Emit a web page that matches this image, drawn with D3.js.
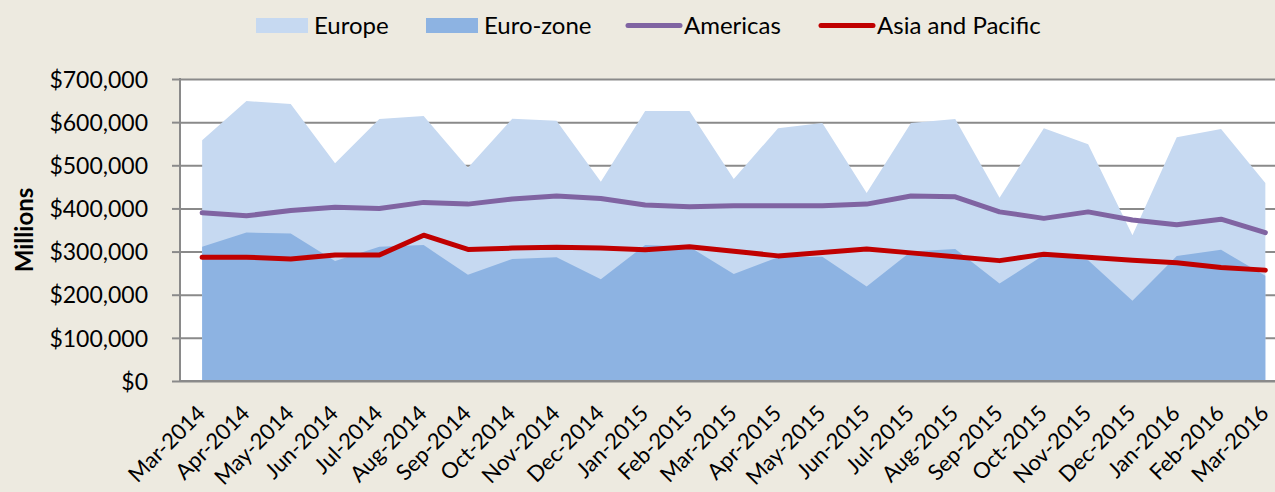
<!DOCTYPE html>
<html>
<head>
<meta charset="utf-8">
<script src="https://cdn.jsdelivr.net/npm/d3@7"></script>
<style>
  body { margin: 0; background: #edeae0; }
  text { font-family: Lato, sans-serif; fill: #000; }
</style>
</head>
<body>
<div id="chart"></div>
<script>
// months on the x axis
const months = [
    'Mar-2014', 'Apr-2014', 'May-2014', 'Jun-2014', 'Jul-2014', 'Aug-2014', 'Sep-2014',
    'Oct-2014', 'Nov-2014', 'Dec-2014', 'Jan-2015', 'Feb-2015', 'Mar-2015', 'Apr-2015',
    'May-2015', 'Jun-2015', 'Jul-2015', 'Aug-2015', 'Sep-2015', 'Oct-2015', 'Nov-2015',
    'Dec-2015', 'Jan-2016', 'Feb-2016', 'Mar-2016',
]

// series values, millions of dollars
const europe = [
    558000, 649000, 642000, 505000, 607000, 614000, 494000, 608000, 603000, 462000,
    626000, 626000, 468000, 586000, 598000, 436000, 598000, 607000, 425000, 586000,
    549000, 338000, 565000, 584000, 459000,
]
const euroZone = [
    311000, 344000, 342000, 278000, 311000, 315000, 246000, 283000, 287000, 236000,
    315000, 311000, 248000, 287000, 288000, 219000, 300000, 306000, 226000, 292000,
    280000, 186000, 290000, 304000, 244000,
]
const americas = [
    390000, 383000, 395000, 403000, 400000, 414000, 410000, 422000, 429000, 423000,
    408000, 404000, 406000, 406000, 406000, 410000, 429000, 427000, 392000, 377000,
    392000, 373000, 362000, 375000, 344000,
]
const asiaPacific = [
    287000, 287000, 283000, 292000, 292000, 338000, 305000, 308000, 310000, 308000,
    304000, 311000, 301000, 290000, 298000, 306000, 297000, 288000, 279000, 294000,
    287000, 280000, 274000, 263000, 257000,
]

// y axis tick values
const yTicks = [0, 100000, 200000, 300000, 400000, 500000, 600000, 700000]

const legendNames = ['Europe', 'Euro-zone', 'Americas', 'Asia and Pacific']

const config = {
    width: 1275,
    height: 492,
    plot: { left: 180, top: 79, bottom: 381, step: 44.3 },
    colors: {
        europe: '#c6d9f1',
        euroZone: '#8db3e2',
        americas: '#8064a2',
        asiaPacific: '#c00000',
        grid: '#8a8a8a',
    },
    legend: { x: [256, 426, 626, 819], y: 25.5 },
    money: d3.format('$,d'),
}

const svg = d3
    .select('#chart')
    .append('svg')
    .attr('width', config.width)
    .attr('height', config.height)

const x = d3
    .scaleBand()
    .domain(months)
    .range([config.plot.left, config.plot.left + months.length * config.plot.step])
const cx = (d) => x(d) + x.bandwidth() / 2

const y = d3
    .scaleLinear()
    .domain([0, 700000])
    .range([config.plot.bottom, config.plot.top])

// white plot area
svg.append('rect')
    .attr('x', config.plot.left)
    .attr('y', config.plot.top)
    .attr('width', config.width - config.plot.left)
    .attr('height', config.plot.bottom - config.plot.top)
    .attr('fill', '#fff')

// gridlines (behind the series)
const grid = svg
    .append('g')
    .attr('transform', `translate(${config.plot.left},0)`)
    .call(
        d3.axisLeft(y)
            .tickValues(yTicks)
            .tickSize(-(config.width - config.plot.left))
            .tickFormat('')
    )
grid.select('.domain').remove()
grid.selectAll('line').attr('stroke', config.colors.grid).attr('stroke-width', 2)

// areas: Europe first, Euro-zone over it
const area = (values) =>
    d3.area()
        .x((d, i) => cx(months[i]))
        .y0(y(0))
        .y1((d) => y(d))(values)

svg.append('path').attr('d', area(europe)).attr('fill', config.colors.europe)
svg.append('path').attr('d', area(euroZone)).attr('fill', config.colors.euroZone)

// lines
const line = d3
    .line()
    .x((d, i) => cx(months[i]))
    .y((d) => y(d))

svg.append('path')
    .attr('d', line(americas))
    .attr('fill', 'none')
    .attr('stroke', config.colors.americas)
    .attr('stroke-width', 5)
    .attr('stroke-linecap', 'round')
    .attr('stroke-linejoin', 'round')

svg.append('path')
    .attr('d', line(asiaPacific))
    .attr('fill', 'none')
    .attr('stroke', config.colors.asiaPacific)
    .attr('stroke-width', 5)
    .attr('stroke-linecap', 'round')
    .attr('stroke-linejoin', 'round')

// y axis with labels and short tick marks
const yAxis = svg
    .append('g')
    .attr('transform', `translate(${config.plot.left},0)`)
    .call(d3.axisLeft(y).tickValues(yTicks).tickSize(8).tickPadding(24).tickFormat(config.money))
yAxis.select('.domain').remove()
yAxis.selectAll('line').attr('stroke', config.colors.grid).attr('stroke-width', 2)
yAxis.selectAll('text').style('font-size', '23px').attr('dy', '0.36em')

svg.append('line')
    .attr('x1', config.plot.left)
    .attr('x2', config.plot.left)
    .attr('y1', config.plot.top - 1)
    .attr('y2', config.plot.bottom)
    .attr('stroke', config.colors.grid)
    .attr('stroke-width', 2)

// x axis, labels turned 45 degrees
const xAxis = svg
    .append('g')
    .attr('transform', `translate(0,${config.plot.bottom})`)
    .call(d3.axisBottom(x).tickSize(0))
xAxis.select('.domain').remove()
xAxis.selectAll('text')
    .attr('x', 0)
    .attr('y', 0)
    .attr('dy', '0.36em')
    .attr('transform', 'translate(-1,28) rotate(-45)')
    .style('text-anchor', 'end')
    .style('font-size', '22px')

svg.append('line')
    .attr('x1', config.plot.left)
    .attr('x2', config.width)
    .attr('y1', config.plot.bottom)
    .attr('y2', config.plot.bottom)
    .attr('stroke', config.colors.grid)
    .attr('stroke-width', 2)

// y axis title
svg.append('text')
    .attr('transform', `translate(24,${(config.plot.top + config.plot.bottom) / 2}) rotate(-90)`)
    .attr('text-anchor', 'middle')
    .attr('dy', '0.36em')
    .style('font-size', '24px')
    .style('font-weight', 'bold')
    .text('Millions')

// legend
const legend = svg.append('g')
const swatchColors = [config.colors.europe, config.colors.euroZone, config.colors.americas, config.colors.asiaPacific]

legendNames.forEach((name, i) => {
    const lx = config.legend.x[i]
    if (i < 2) {
        legend.append('rect')
            .attr('x', lx)
            .attr('y', config.legend.y - 7.5)
            .attr('width', 52)
            .attr('height', 15)
            .attr('fill', swatchColors[i])
    } else {
        legend.append('line')
            .attr('x1', lx + 2)
            .attr('x2', lx + 54)
            .attr('y1', config.legend.y)
            .attr('y2', config.legend.y)
            .attr('stroke', swatchColors[i])
            .attr('stroke-width', 5)
            .attr('stroke-linecap', 'round')
    }
    legend.append('text')
        .attr('x', lx + 58)
        .attr('y', config.legend.y)
        .attr('dy', '0.36em')
        .style('font-size', '24px')
        .text(name)
})
</script>
</body>
</html>
